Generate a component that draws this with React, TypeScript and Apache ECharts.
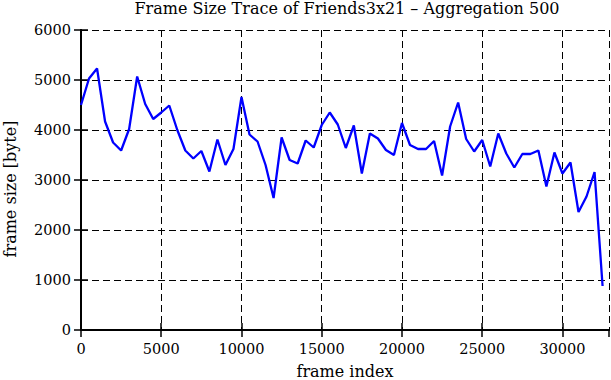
import React, { useEffect, useRef } from "react";
import * as echarts from "echarts";

const titleText = "Frame Size Trace of Friends3x21 \u2013 Aggregation 500";
const xName = "frame index";
const yName = "frame size [byte]";
const aggregation = 500;
const frameSizes = [
  4500, 5030, 5230, 4170, 3750, 3590, 4020, 5070, 4520, 4220,
  4350, 4490, 4000, 3590, 3430, 3580, 3170, 3810, 3300, 3620,
  4660, 3910, 3770, 3300, 2640, 3850, 3400, 3330, 3790, 3650,
  4100, 4350, 4110, 3640, 4090, 3130, 3930, 3830, 3600, 3500,
  4140, 3700, 3620, 3620, 3780, 3090, 4070, 4550, 3820, 3570,
  3800, 3270, 3930, 3530, 3250, 3520, 3520, 3590, 2870, 3550,
  3130, 3350, 2360, 2670, 3160, 880,
];
const xMin = 0;
const xMax = 32900;
const xInterval = 5000;
const yMin = 0;
const yMax = 6000;
const yInterval = 1000;

const FONT = "DejaVu Serif";

export default function App() {
  const ref = useRef<HTMLDivElement>(null);
  useEffect(() => {
    if (!ref.current) return;
    const chart = echarts.init(ref.current, undefined, { renderer: "svg" });
    const data = frameSizes.map((v, i) => [i * aggregation, v]);
    const axisLine = { show: true, lineStyle: { color: "#000", width: 2 } };
    const tick = { show: true, inside: true, length: 7, lineStyle: { color: "#000", width: 1.5 } };
    const split = { show: true, lineStyle: { color: "#000", width: 1, type: [7, 4] as any } };
    chart.setOption({
      animation: false,
      backgroundColor: "#fff",
      grid: { left: 81, right: 2, top: 30, bottom: 50, containLabel: false },
      xAxis: [
        {
          type: "value",
          position: "bottom",
          min: xMin,
          max: xMax,
          interval: xInterval,
          axisLine,
          axisTick: tick,
          splitLine: split,
          axisLabel: {
            color: "#000",
            fontFamily: FONT,
            fontSize: 14.5,
            margin: 11,
            showMaxLabel: false,
            formatter: (v: number) => (v % xInterval === 0 ? String(v) : ""),
          },
        },
        {
          type: "value",
          position: "top",
          min: xMin,
          max: xMax,
          interval: xInterval,
          axisLine,
          axisTick: tick,
          splitLine: { show: false },
          axisLabel: { show: false },
        },
      ],
      yAxis: [
        {
          type: "value",
          position: "left",
          min: yMin,
          max: yMax,
          interval: yInterval,
          axisLine,
          axisTick: tick,
          splitLine: split,
          axisLabel: {
            color: "#000",
            fontFamily: FONT,
            fontSize: 14.5,
            margin: 10,
            formatter: (v: number) => String(v),
          },
        },
        {
          type: "value",
          position: "right",
          min: yMin,
          max: yMax,
          interval: yInterval,
          axisLine,
          axisTick: tick,
          splitLine: { show: false },
          axisLabel: { show: false },
        },
      ],
      graphic: [
        {
          type: "text",
          x: 347,
          y: 8.5,
          style: {
            text: titleText,
            fill: "#000",
            font: `16px '${FONT}'`,
            textAlign: "center",
            textVerticalAlign: "middle",
          },
        },
        {
          type: "text",
          x: 345,
          y: 371,
          style: {
            text: xName,
            fill: "#000",
            font: `16px '${FONT}'`,
            textAlign: "center",
            textVerticalAlign: "middle",
          },
        },
        {
          type: "text",
          x: 10,
          y: 189,
          rotation: Math.PI / 2,
          style: {
            text: yName,
            fill: "#000",
            font: `16px '${FONT}'`,
            textAlign: "center",
            textVerticalAlign: "middle",
          },
        },
      ],
      series: [
        {
          type: "line",
          data,
          xAxisIndex: 0,
          yAxisIndex: 0,
          showSymbol: false,
          symbol: "none",
          lineStyle: { color: "#0000ff", width: 2.3 },
          z: 5,
        },
      ],
    });
    return () => chart.dispose();
  }, []);
  return (
    <div
      ref={ref}
      style={{ position: "fixed", left: 0, top: 0, width: 611, height: 380, background: "#fff" }}
    />
  );
}
